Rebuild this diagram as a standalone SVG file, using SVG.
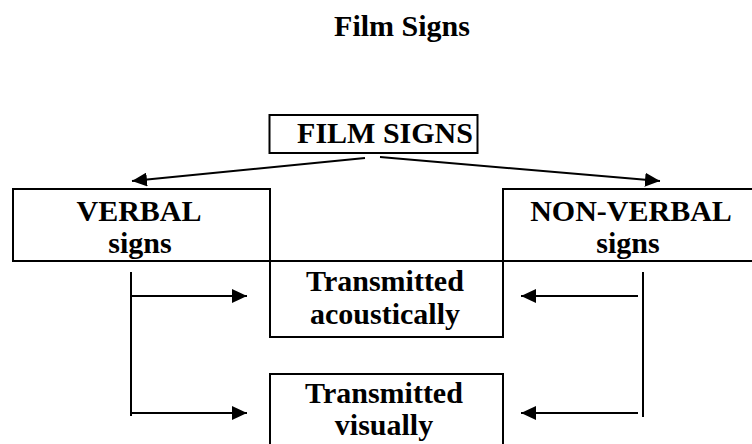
<svg xmlns="http://www.w3.org/2000/svg" width="752" height="444" viewBox="0 0 752 444">
<style>
.box{fill:none;stroke:#000;stroke-width:2}
.t{font-family:"Liberation Serif","Times New Roman",serif;font-weight:bold;font-size:30px;fill:#000;text-anchor:middle}
.c{fill:none;stroke:#000;stroke-width:2}
</style>
<defs>
<marker id="ah" viewBox="0 0 15 14" refX="15" refY="7" markerWidth="15" markerHeight="14" markerUnits="userSpaceOnUse" orient="auto">
<path d="M0,0 L15,7 L0,14 z" fill="#000"/>
</marker>
</defs>
<rect width="752" height="444" fill="#fff"/>
<text class="t" x="402" y="36">Film Signs</text>
<g id="film-signs">
<rect class="box" x="269.5" y="115" width="208" height="38"/>
<text class="t" x="385" y="143">FILM SIGNS</text>
</g>
<g id="verbal">
<rect class="box" x="13" y="189" width="257" height="72"/>
<text class="t" x="139" y="221">VERBAL</text>
<text class="t" x="140" y="253">signs</text>
</g>
<g id="non-verbal">
<path class="box" d="M760,189 H503 V261 H760"/>
<text class="t" x="631" y="221">NON-VERBAL</text>
<text class="t" x="628" y="253">signs</text>
</g>
<g id="acoustic">
<rect class="box" x="270" y="261" width="233" height="76"/>
<text class="t" x="385" y="291">Transmitted</text>
<text class="t" x="385" y="324">acoustically</text>
</g>
<g id="visual">
<path class="box" d="M270,450 V374 H503 V450"/>
<text class="t" x="384" y="403">Transmitted</text>
<text class="t" x="384" y="435">visually</text>
</g>
<g id="connectors">
<line class="c" x1="365" y1="158" x2="132" y2="181" marker-end="url(#ah)"/>
<line class="c" x1="380" y1="157" x2="660" y2="181" marker-end="url(#ah)"/>
<line class="c" x1="131" y1="272" x2="131" y2="416"/>
<line class="c" x1="131" y1="296" x2="247" y2="296" marker-end="url(#ah)"/>
<line class="c" x1="131" y1="413" x2="247" y2="413" marker-end="url(#ah)"/>
<line class="c" x1="643" y1="272" x2="643" y2="417"/>
<line class="c" x1="638" y1="296" x2="521" y2="296" marker-end="url(#ah)"/>
<line class="c" x1="638" y1="413" x2="521" y2="413" marker-end="url(#ah)"/>
</g>
</svg>
